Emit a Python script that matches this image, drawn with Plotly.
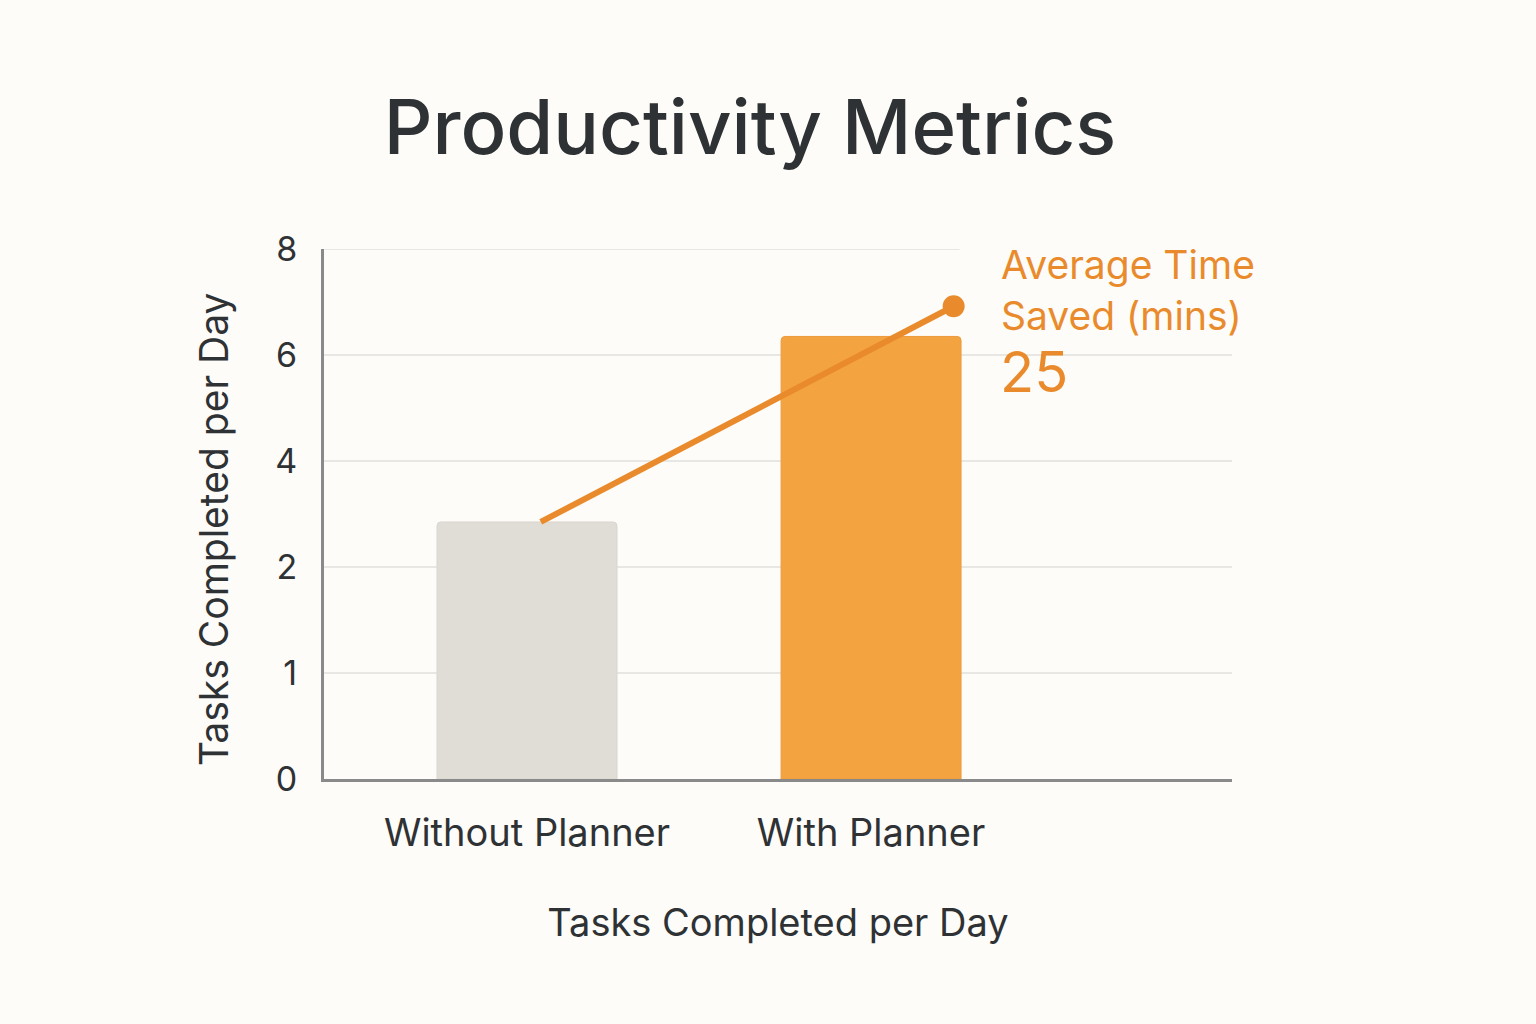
import numpy as np
import plotly.graph_objects as go

# ---- data ----
categories = ["Without Planner", "With Planner"]
tasks_per_day = [2.85, 6.35]
tick_labels = [0, 1, 2, 4, 6, 8]           # labels as printed on the y axis (evenly spaced)
line_x = [0.04, 1.24]                      # position of the trend line ends on the category scale
line_values = [2.85, 6.92]
saved_label = "Average Time<br>Saved (mins)"
saved_value = "25"
axis_title = "Tasks Completed per Day"

# y axis places its printed labels at equal steps: map values through that scale
tick_pos = list(range(len(tick_labels)))
def yscale(v):
    return np.interp(v, tick_labels, tick_pos)

ORANGE = "#E98B2C"
BG = "#FDFCF8"
TXT = "#2F3235"
FONT = "Inter"

fig = go.Figure()

fig.add_trace(go.Bar(
    x=[0, 1], y=yscale(tasks_per_day),
    width=0.523,
    marker=dict(color=["#E0DCD6", "#F3A441"],
                line=dict(color=["#DAD6D0", "#EC9A3A"], width=1),
                cornerradius=4),
    showlegend=False, hoverinfo="skip",
))

fig.add_trace(go.Scatter(
    x=line_x, y=yscale(line_values),
    mode="lines+markers",
    line=dict(color=ORANGE, width=6),
    marker=dict(size=[0, 22], color=ORANGE, opacity=1, line=dict(width=0)),
    showlegend=False, hoverinfo="skip",
))

# gridlines drawn per tick (top one stops before the side label)
for p in tick_pos[1:]:
    x1 = 0.70 if p == tick_pos[-1] else 1.0
    fig.add_shape(type="line", xref="paper", yref="y", x0=0, x1=x1, y0=p, y1=p,
                  line=dict(color="#E9E7E3", width=2), layer="below")

fig.add_annotation(
    text=saved_label, xref="paper", yref="y", x=(999 - 324) / 908, y=yscale(7.22),
    xanchor="left", yanchor="middle", showarrow=False, align="left",
    font=dict(family=FONT, size=39, color=ORANGE),
)
fig.add_annotation(
    text=saved_value, xref="paper", yref="y", x=(998 - 324) / 908, y=yscale(5.68),
    xanchor="left", yanchor="middle", showarrow=False, align="left",
    font=dict(family=FONT, size=56, color=ORANGE),
)
# y axis title (placed as rotated text so it can sit slightly below the plot centre)
fig.add_annotation(
    text=axis_title, xref="paper", yref="paper", x=(213 - 324) / 908, y=(779 - 530) / 530,
    xanchor="center", yanchor="middle", textangle=-90, showarrow=False,
    font=dict(family=FONT, size=39, color=TXT),
)

fig.update_layout(
    width=1536, height=1024,
    paper_bgcolor=BG, plot_bgcolor=BG,
    margin=dict(l=324, r=304, t=249, b=245),
    font=dict(family=FONT, color=TXT),
    title=dict(text="Productivity Metrics", x=750 / 1536, xanchor="center",
               y=1 - 127 / 1024, yanchor="middle", yref="container",
               font=dict(family=FONT, size=76, color=TXT, weight=500)),
    xaxis=dict(range=[-0.59, 2.049], tickvals=[0, 1], ticktext=categories,
               showgrid=False, zeroline=False, showline=True, linecolor="#8A8A8A",
               linewidth=3, ticks="", tickfont=dict(size=38, color=TXT),
               ticklabelstandoff=18,
               title=dict(text=axis_title, standoff=56,
                          font=dict(size=38, color=TXT))),
    yaxis=dict(range=[0, 5], tickvals=tick_pos, ticktext=[str(t) for t in tick_labels],
               showgrid=False, zeroline=False, showline=True, linecolor="#8A8A8A",
               linewidth=3, ticks="", tickfont=dict(size=34, color=TXT),
               ticklabelstandoff=17),
)

fig.write_html("out.html", config={"displayModeBar": False},
               post_script="document.body.style.margin='0';document.body.style.background='#FDFCF8';")
